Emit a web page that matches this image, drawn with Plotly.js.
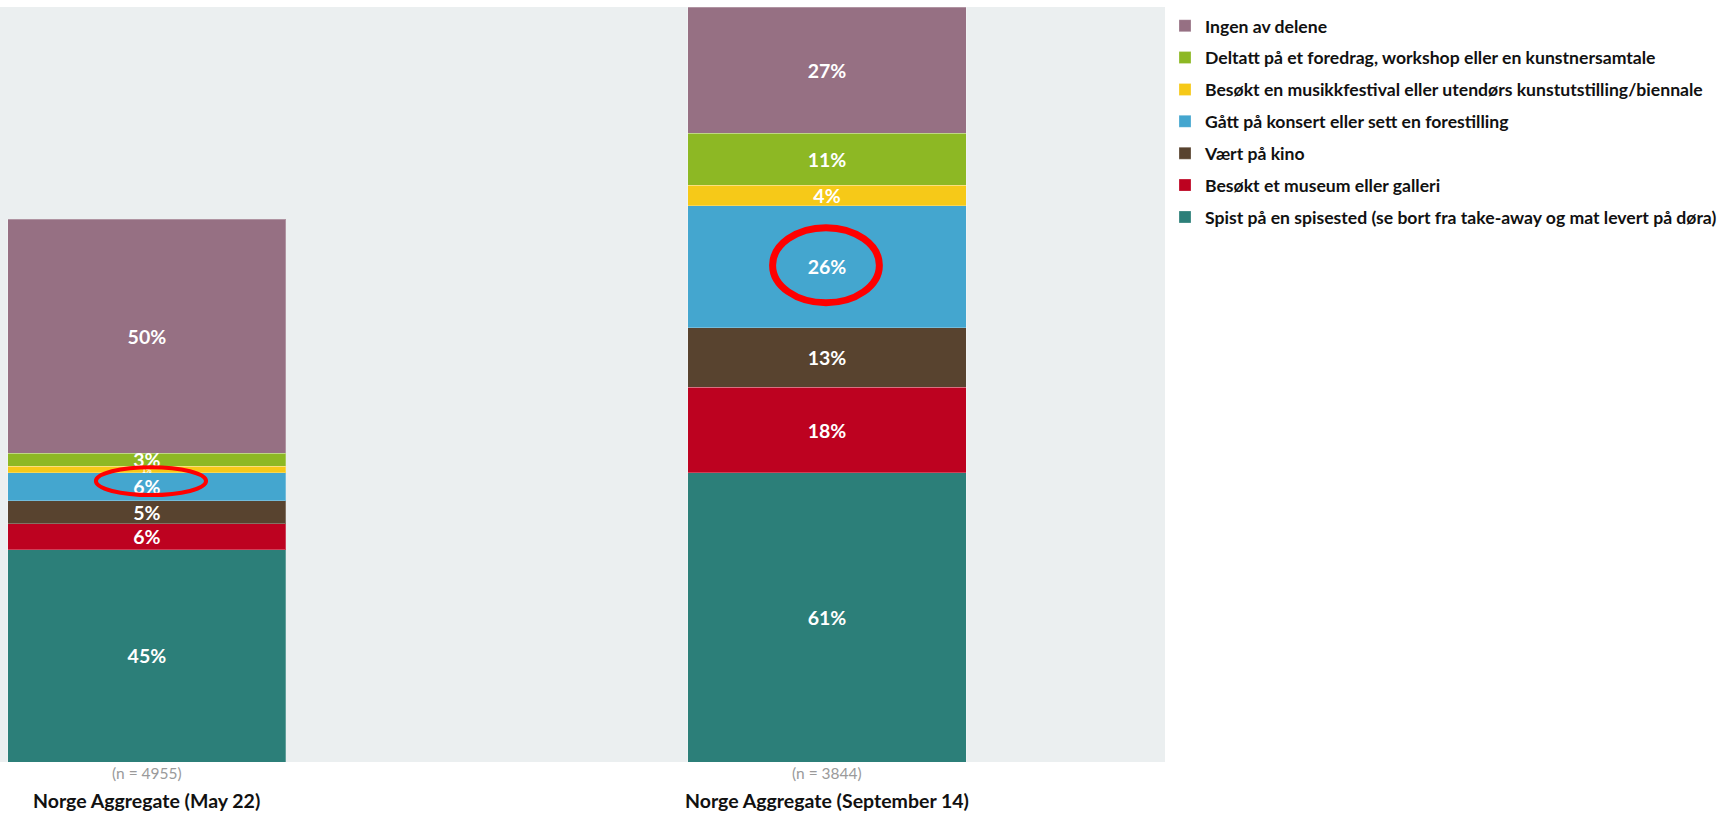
<!DOCTYPE html>
<html>
<head>
<meta charset="utf-8">
<script src="https://cdn.plot.ly/plotly-3.0.1.min.js"></script>
<style>
html,body{margin:0;padding:0;background:#fff;}
#chart{width:1726px;height:813px;}
#chart path.legendbar{transform: translate(22px,0px) scale(1.62);}
</style>
</head>
<body>
<div id="chart"></div>
<script>
// Categories (x axis) and sample sizes
const categories = ["Norge Aggregate (May 22)", "Norge Aggregate (September 14)"];
const sampleSizes = ["(n = 4955)", "(n = 3844)"];

// Series names (bottom to top of stack)
const seriesNames = [
  "Spist på en spisested (se bort fra take-away og mat levert på døra)",
  "Besøkt et museum eller galleri",
  "Vært på kino",
  "Gått på konsert eller sett en forestilling",
  "Besøkt en musikkfestival eller utendørs kunstutstilling/biennale",
  "Deltatt på et foredrag, workshop eller en kunstnersamtale",
  "Ingen av delene"
];
const seriesColors = ["#2c7f79", "#bd0220", "#58432f", "#44a6cf", "#f6c918", "#8db824", "#967083"];

// Values (%) per series: [May 22, September 14]
const spisested   = [44.9, 61.2];
const museum      = [5.5, 18.1];
const kino        = [4.9, 12.6];
const konsert     = [5.9, 25.8];
const festival    = [1.4, 4.4];
const foredrag    = [2.8, 11.0];
const ingen       = [49.5, 26.7];

const seriesValues = [spisested, museum, kino, konsert, festival, foredrag, ingen];

const FONT = "Lato, 'Open Sans', sans-serif";

const traces = seriesValues.map((vals, i) => ({
  type: "bar",
  name: "<b>" + seriesNames[i] + "</b>",
  legendgroup: "g" + i,
  legendrank: 100 - i,
  x: categories,
  y: vals,
  text: vals.map(v => Math.round(v) + "%"),
  textposition: "inside",
  insidetextanchor: "middle",
  textangle: 0,
  constraintext: "none",
  textfont: {family: FONT, size: vals.map(v => v < 2 ? 7 : 19.5), color: "#ffffff", weight: 700},
  marker: {color: seriesColors[i], line: {color: "rgba(255,255,255,0.25)", width: 1}},
  width: 0.409,
  hoverinfo: "skip"
}));

const annotations = [];
categories.forEach((c, i) => {
  annotations.push({
    xref: "x", yref: "paper", x: i, y: 0, yanchor: "middle", xanchor: "center",
    yshift: -11, showarrow: false, text: sampleSizes[i],
    font: {family: FONT, size: 15.5, color: "#9a9a9a"}
  });
  annotations.push({
    xref: "x", yref: "paper", x: i, y: 0, yanchor: "middle", xanchor: "center",
    yshift: -38, showarrow: false, text: "<b>" + c + "</b>",
    font: {family: FONT, size: 19.5, color: "#111111"}
  });
});

const layout = {
  width: 1726, height: 813,
  margin: {l: 0, r: 561, t: 7, b: 51, autoexpand: false},
  paper_bgcolor: "#ffffff",
  plot_bgcolor: "#ebeff0",
  barmode: "stack",
  bargap: 0,
  font: {family: FONT},
  xaxis: {type: "category", range: [-0.216, 1.497], showticklabels: false, showgrid: false, zeroline: false, showline: false, ticks: ""},
  yaxis: {range: [0, 159.8], showticklabels: false, showgrid: false, zeroline: false, showline: false, ticks: ""},
  showlegend: true,
  legend: {
    x: 1.0, xanchor: "left", y: 0.999, yanchor: "top",
    traceorder: "grouped", tracegroupgap: 6,
    font: {family: FONT, size: 17.6, color: "#111111"},
    bgcolor: "rgba(0,0,0,0)"
  },
  annotations: annotations,
  shapes: [
    {type: "circle", xref: "x", yref: "y", x0: -0.075, x1: 0.087, y0: 56.5, y1: 62.4, line: {color: "#ff0000", width: 4}},
    {type: "circle", xref: "x", yref: "y", x0: 0.920, x1: 1.077, y0: 97.2, y1: 113.1, line: {color: "#ff0000", width: 7}}
  ]
};

Plotly.newPlot("chart", traces, layout, {displayModeBar: false, staticPlot: true});
</script>
</body>
</html>
